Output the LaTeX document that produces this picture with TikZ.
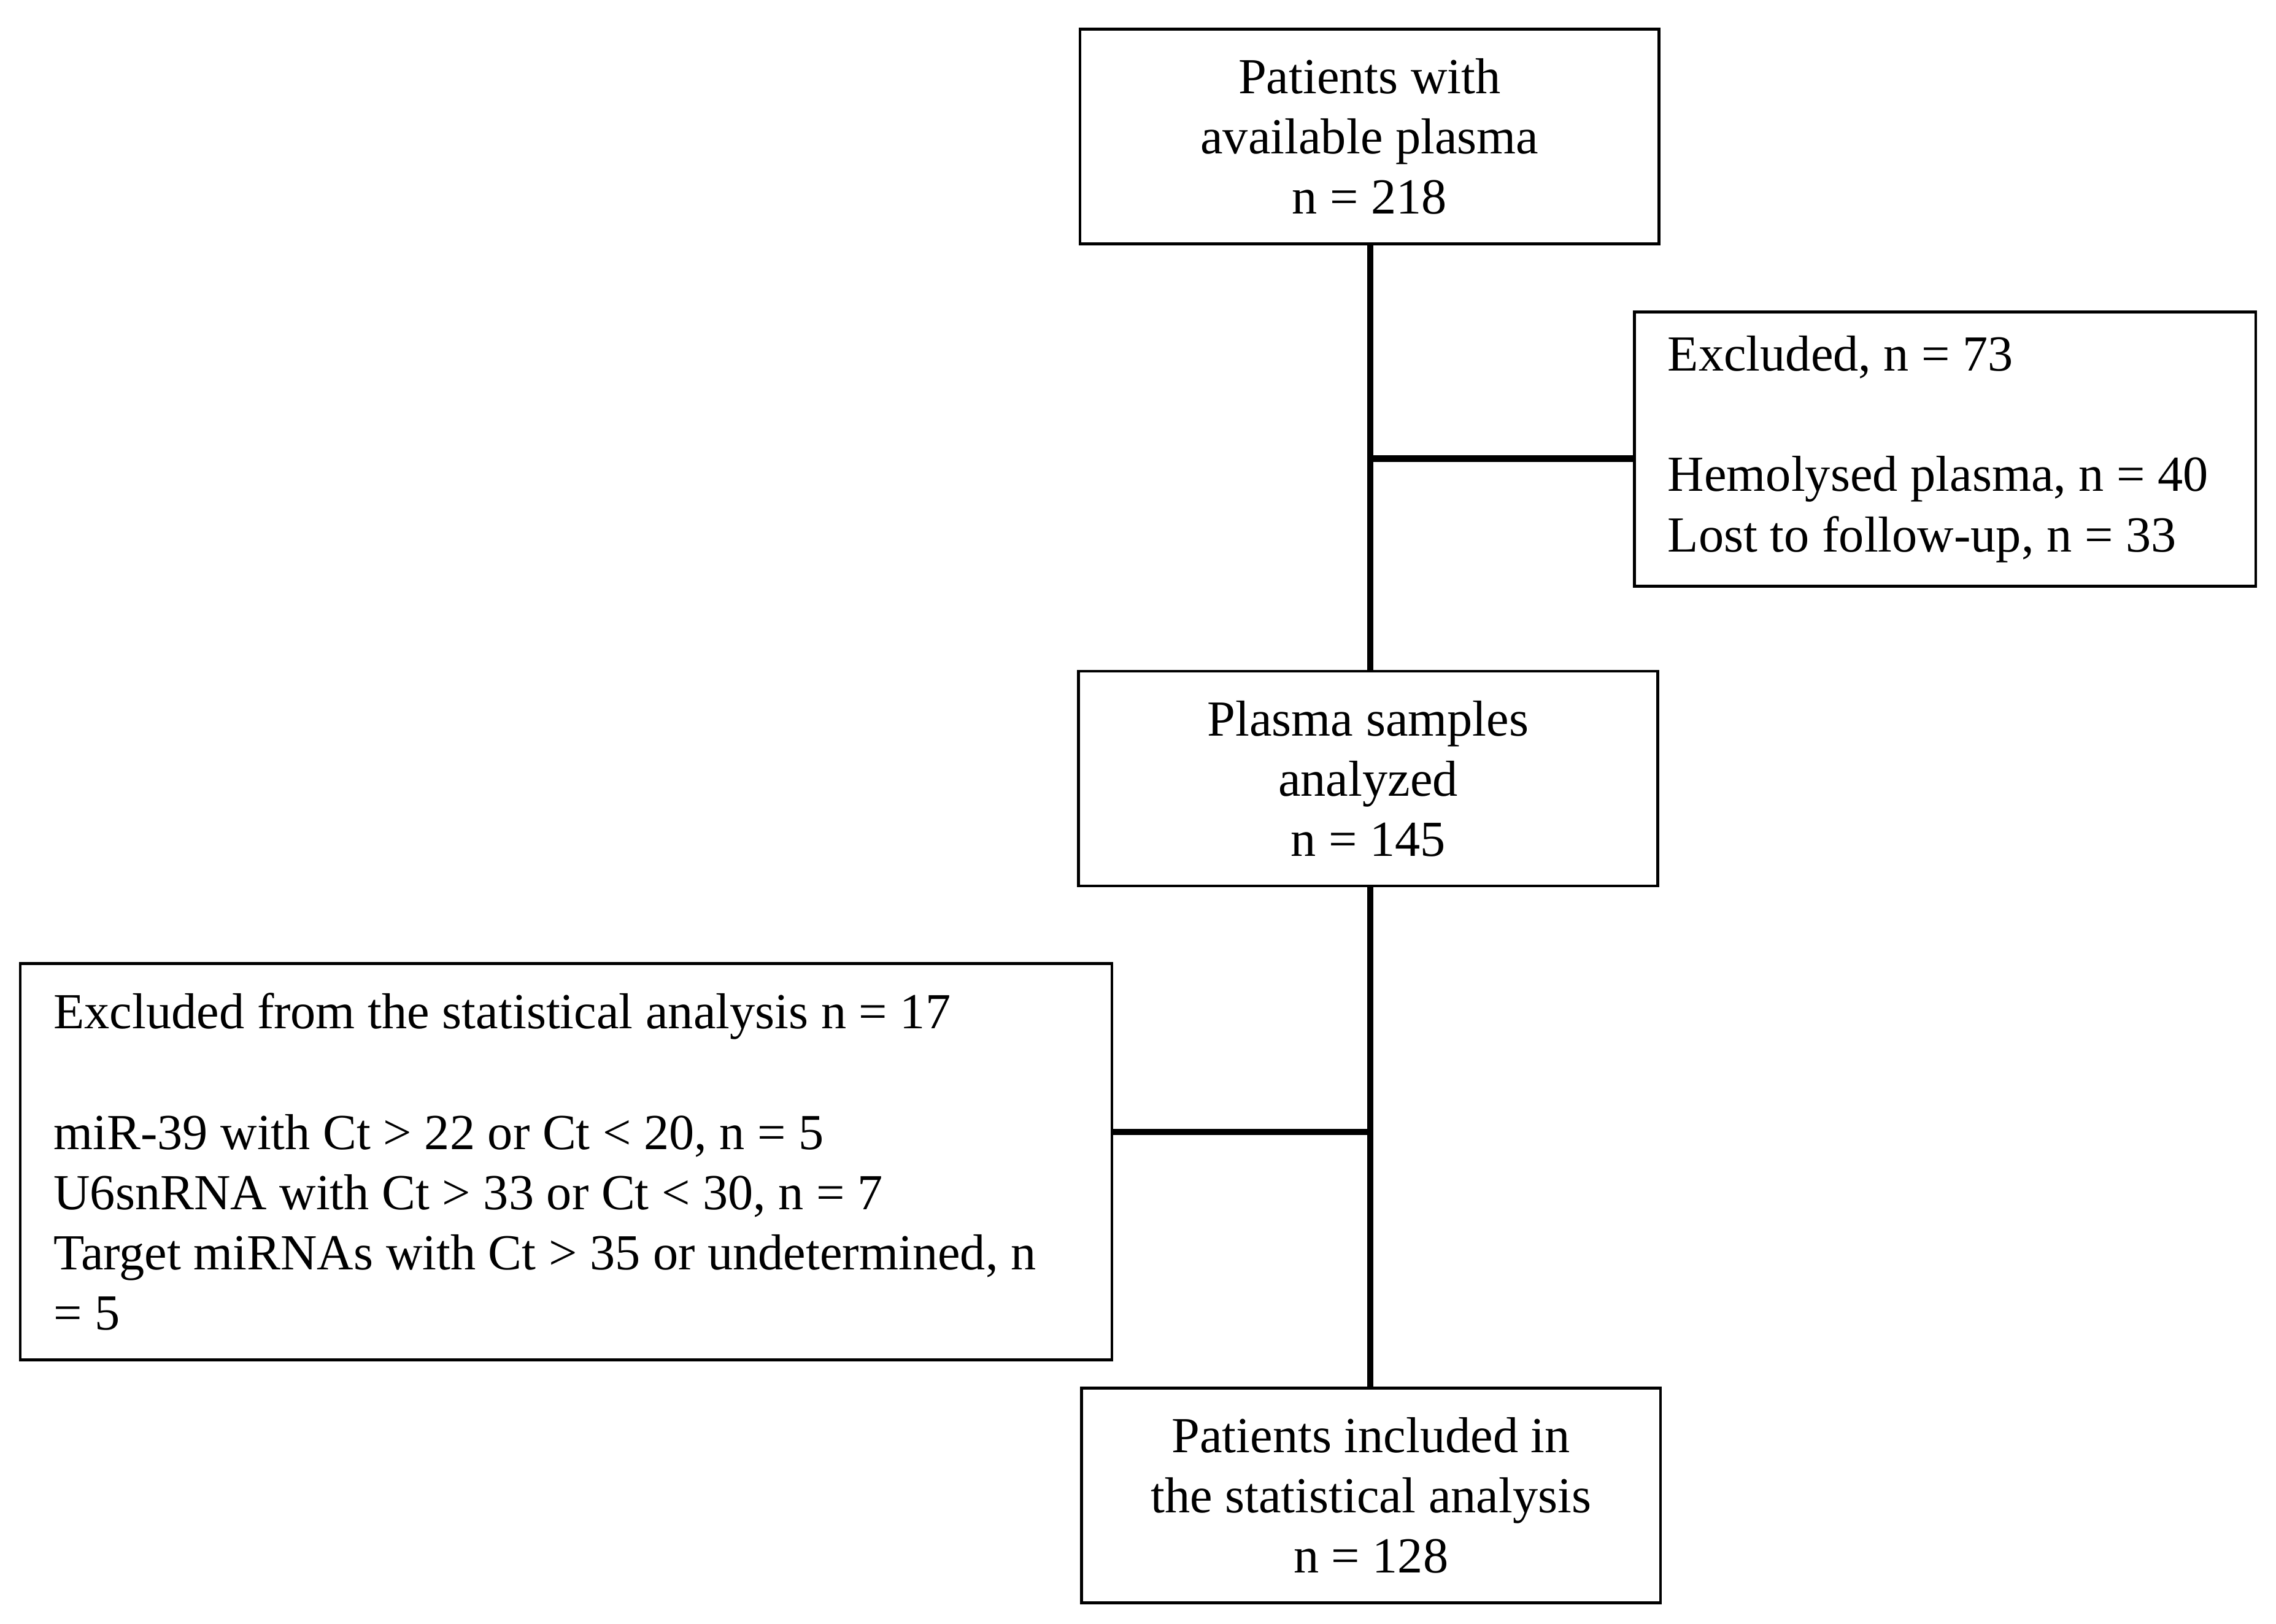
\documentclass[tikz,border=0pt]{standalone}
\usepackage{fontspec}
\setmainfont{Liberation Serif}
\usetikzlibrary{positioning}

\tikzset{
  box/.style={draw,line width=1pt,minimum width=199.5pt,minimum height=74pt,
              align=center,inner sep=0pt,font=\fontsize{17.4}{20.75}\selectfont},
  sidebox/.style={draw,line width=1pt,inner xsep=11.5pt,inner ysep=0pt,
              align=flush left,font=\fontsize{17.4}{20.75}\selectfont},
  link/.style={line width=2.2pt}
}

\begin{document}
\begin{tikzpicture}[x=0.5pt,y=-0.5pt]

                \useasboundingbox (0,0) rectangle (1568,1119);

                \node[box] (p1) at (943.5,94) {Patients with\\available plasma\\n = 218};

                \node[box] (p2) at (942.5,536.5) {Plasma samples\\analyzed\\n = 145};

                \node[box] (p3) at (944.5,1030.5) {Patients included in\\the statistical analysis\\n = 128};

                \node[sidebox,text width=191pt,minimum height=94.5pt] (x1) at (1340,309.5)
                     {Excluded, n = 73\\[20.75pt]Hemolysed plasma, n = 40\\Lost to follow-up, n = 33};

                \node[sidebox,text width=353pt,minimum height=136.5pt] (x2) at (390,800.5)
                     {Excluded from the statistical analysis n = 17\\[20.75pt]miR-39 with Ct > 22 or Ct < 20, n = 5\\U6snRNA with Ct > 33 or Ct < 30, n = 7\\Target miRNAs with Ct > 35 or undetermined, n\\= 5};

                \coordinate (j1) at (944,316);
                \coordinate (j2) at (944,780);

                \draw[link] (p1.south -| j1) -- (p2.north -| j1)
                            (p2.south -| j1) -- (p3.north -| j1);

                \draw[link] (j1) -- (j1 -| x1.west)
                            (j2) -- (j2 -| x2.east);

            \end{tikzpicture}
\end{document}
